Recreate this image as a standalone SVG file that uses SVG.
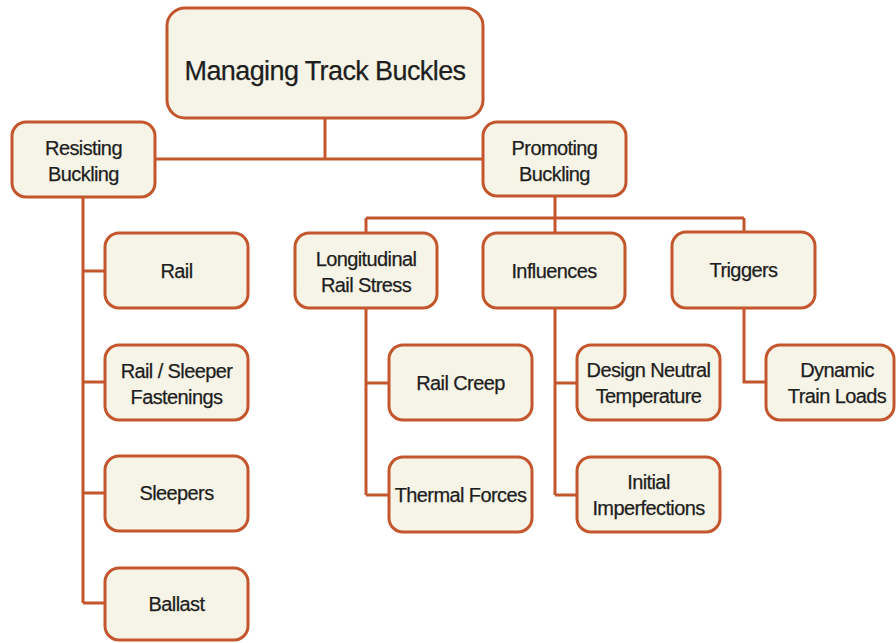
<svg xmlns="http://www.w3.org/2000/svg" width="896" height="643" viewBox="0 0 896 643">
<style>
.n rect{fill:#f6f4e6;stroke:#c4562d;stroke-width:3}
.n text{font-family:"Liberation Sans",Arial,sans-serif;font-size:20px;letter-spacing:-0.6px;fill:#1e1e1e;stroke:#1e1e1e;stroke-width:0.25;text-anchor:middle}
.c path{fill:none;stroke:#c4562d;stroke-width:3}
</style>
<rect width="896" height="643" fill="#fff"/>
<g class="c" id="connectors">
<path d="M325 118V159M155 159H483"/>
<path d="M555 196V233M366 218H744M366 218V233M744 218V232"/>
<path d="M83 197V603M83 271H105M83 382H105M83 493H105M83 603H105"/>
<path d="M366 308V495M366 383H389M366 495H389"/>
<path d="M555 308V495M555 383H577M555 495H577"/>
<path d="M744 308V382H766"/>
</g>
<g class="n" id="root"><rect x="167" y="8" width="316" height="110" rx="18"/><text x="325" y="80" style="font-size:27px">Managing Track Buckles</text></g>
<g class="n" id="resisting"><rect x="12" y="122" width="143" height="75" rx="14"/><text x="83.5" y="155">Resisting</text><text x="83.5" y="181">Buckling</text></g>
<g class="n" id="promoting"><rect x="483" y="122" width="143" height="74" rx="14"/><text x="554.5" y="155">Promoting</text><text x="554.5" y="181">Buckling</text></g>
<g class="n" id="longitudinal"><rect x="295" y="233" width="142" height="75" rx="14"/><text x="366" y="266">Longitudinal</text><text x="366" y="292">Rail Stress</text></g>
<g class="n" id="influences"><rect x="483" y="233" width="142" height="75" rx="14"/><text x="554" y="278">Influences</text></g>
<g class="n" id="triggers"><rect x="672" y="232" width="143" height="76" rx="14"/><text x="743.5" y="277">Triggers</text></g>
<g class="n" id="rail"><rect x="105" y="233" width="143" height="75" rx="14"/><text x="176.5" y="278">Rail</text></g>
<g class="n" id="fastenings"><rect x="105" y="345" width="143" height="75" rx="14"/><text x="176.5" y="378">Rail / Sleeper</text><text x="176.5" y="404">Fastenings</text></g>
<g class="n" id="sleepers"><rect x="105" y="456" width="143" height="75" rx="14"/><text x="176.5" y="500">Sleepers</text></g>
<g class="n" id="ballast"><rect x="105" y="568" width="143" height="72" rx="14"/><text x="176.5" y="611">Ballast</text></g>
<g class="n" id="railcreep"><rect x="389" y="345" width="143" height="75" rx="14"/><text x="460.5" y="390">Rail Creep</text></g>
<g class="n" id="thermal"><rect x="389" y="457" width="143" height="75" rx="14"/><text x="460.5" y="502">Thermal Forces</text></g>
<g class="n" id="design"><rect x="577" y="345" width="143" height="75" rx="14"/><text x="648.5" y="377">Design Neutral</text><text x="648.5" y="403">Temperature</text></g>
<g class="n" id="initial"><rect x="577" y="457" width="143" height="75" rx="14"/><text x="648.5" y="489">Initial</text><text x="648.5" y="515">Imperfections</text></g>
<g class="n" id="dynamic"><rect x="766" y="345" width="128" height="75" rx="14"/><text x="837" y="377">Dynamic</text><text x="837" y="403">Train Loads</text></g>
</svg>
